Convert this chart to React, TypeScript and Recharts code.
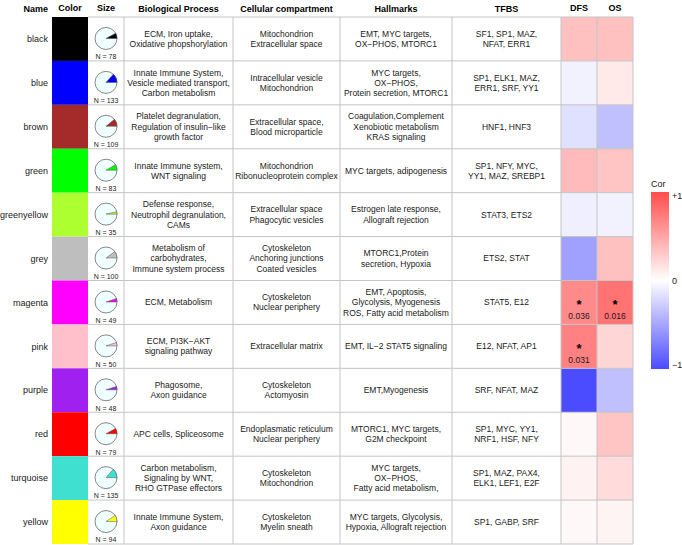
import React from 'react';
import { ScatterChart, Scatter, XAxis, YAxis, Sector } from 'recharts';

// ---------------- data ----------------
const moduleNames = ['black', 'blue', 'brown', 'green', 'greenyellow', 'grey', 'magenta', 'pink', 'purple', 'red', 'turquoise', 'yellow'];
const moduleColors = ['#000000', '#0000FF', '#A52A2A', '#00FF00', '#ADFF2F', '#BEBEBE', '#FF00FF', '#FFC0CB', '#A020F0', '#FF0000', '#40E0D0', '#FFFF00'];
const moduleSizes = [78, 133, 109, 83, 35, 100, 49, 50, 48, 79, 135, 94];

const biologicalProcess = [
  ['ECM, Iron uptake,', 'Oxidative phopshorylation'],
  ['Innate Immune System,', 'Vesicle mediated transport,', 'Carbon metabolism'],
  ['Platelet degranulation,', 'Regulation of insulin\u2212like', 'growth factor'],
  ['Innate Immune system,', 'WNT signaling'],
  ['Defense response,', 'Neutrophil degranulation,', 'CAMs'],
  ['Metabolism of', 'carbohydrates,', 'Immune system process'],
  ['ECM, Metabolism'],
  ['ECM, PI3K\u2212AKT', 'signaling pathway'],
  ['Phagosome,', 'Axon guidance'],
  ['APC cells, Spliceosome'],
  ['Carbon metabolism,', 'Signaling by WNT,', 'RHO GTPase effectors'],
  ['Innate Immune System,', 'Axon guidance'],
];
const cellularCompartment = [
  ['Mitochondrion', 'Extracellular space'],
  ['Intracellular vesicle', 'Mitochondrion'],
  ['Extracellular space,', 'Blood microparticle'],
  ['Mitochondrion', 'Ribonucleoprotein complex'],
  ['Extracellular space', 'Phagocytic vesicles'],
  ['Cytoskeleton', 'Anchoring junctions', 'Coated vesicles'],
  ['Cytoskeleton', 'Nuclear periphery'],
  ['Extracellular matrix'],
  ['Cytoskeleton', 'Actomyosin'],
  ['Endoplasmatic reticulum', 'Nuclear periphery'],
  ['Cytoskeleton', 'Mitochondrion'],
  ['Cytoskeleton', 'Myelin sneath'],
];
const hallmarks = [
  ['EMT, MYC targets,', 'OX\u2212PHOS, MTORC1'],
  ['MYC targets,', 'OX\u2212PHOS,', 'Protein secretion, MTORC1'],
  ['Coagulation,Complement', 'Xenobiotic metabolism', 'KRAS signaling'],
  ['MYC targets, adipogenesis'],
  ['Estrogen late response,', 'Allograft rejection'],
  ['MTORC1,Protein', 'secretion, Hypoxia'],
  ['EMT, Apoptosis,', 'Glycolysis, Myogenesis', 'ROS, Fatty acid metabolism'],
  ['EMT, IL\u22122 STAT5 signaling'],
  ['EMT,Myogenesis'],
  ['MTORC1, MYC targets,', 'G2M checkpoint'],
  ['MYC targets,', 'OX\u2212PHOS,', 'Fatty acid metabolism,'],
  ['MYC targets, Glycolysis,', 'Hypoxia, Allograft rejection'],
];
const tfbs = [
  ['SF1, SP1, MAZ,', 'NFAT, ERR1'],
  ['SP1, ELK1, MAZ,', 'ERR1, SRF, YY1'],
  ['HNF1, HNF3'],
  ['SP1, NFY, MYC,', 'YY1, MAZ, SREBP1'],
  ['STAT3, ETS2'],
  ['ETS2, STAT'],
  ['STAT5, E12'],
  ['E12, NFAT, AP1'],
  ['SRF, NFAT, MAZ'],
  ['SP1, MYC, YY1,', 'NRF1, HSF, NFY'],
  ['SP1, MAZ, PAX4,', 'ELK1, LEF1, E2F'],
  ['SP1, GABP, SRF'],
];
const dfsCor = [0.35, -0.07, -0.17, 0.38, -0.09, -0.53, 0.65, 0.7, -1.0, 0.04, 0.07, 0.04];
const osCor = [0.35, 0.12, -0.35, 0.33, -0.07, 0.35, 0.78, 0.23, -0.35, 0.32, 0.2, 0.06];
const dfsP: (number | null)[] = [null, null, null, null, null, null, 0.036, 0.031, null, null, null, null];
const osP: (number | null)[] = [null, null, null, null, null, null, 0.016, null, null, null, null, null];
const legendTicks = ['+1', '0', '\u22121'];

// ---------------- layout ----------------
const W = 682;
const H = 545;
const HEADER_H = 17;
const TABLE_BOTTOM = 544;
const ROW_H = (TABLE_BOTTOM - HEADER_H) / moduleNames.length;
const COL_W = 36;
const FONT = '"Liberation Sans", Arial, Helvetica, sans-serif';
const GRID = '#C4C4C4';
const TEXT = '#1A1A1A';

const textCols = [
  { title: 'Biological Process', x0: 124, x1: 233, lines: biologicalProcess },
  { title: 'Cellular compartment', x0: 233, x1: 340, lines: cellularCompartment },
  { title: 'Hallmarks', x0: 340, x1: 452, lines: hallmarks },
  { title: 'TFBS', x0: 452, x1: 561, lines: tfbs },
];
const gridX = [124, 233, 340, 452, 561, 597, 633];

const totalGenes = moduleSizes.reduce((a, b) => a + b, 0);

const LOW = [75, 75, 255];
const HIGH = [255, 75, 75];
function corColor(v: number) {
  const t = Math.min(1, Math.abs(v));
  const end = v >= 0 ? HIGH : LOW;
  const c = [0, 1, 2].map((k) => Math.round(255 + (end[k] - 255) * t));
  return `rgb(${c.join(',')})`;
}

const leftData = moduleNames.flatMap((name, i) => [
  { col: 'Color', name, idx: i },
  { col: 'Size', name, idx: i },
]);
const heatData = moduleNames.flatMap((name, i) => [
  { metric: 'DFS', name, cor: dfsCor[i], p: dfsP[i] },
  { metric: 'OS', name, cor: osCor[i], p: osP[i] },
]);

const LeftShape = (props: any) => {
  const { cx, cy, payload } = props;
  const i = payload.idx;
  if (payload.col === 'Color') {
    return <rect x={cx - COL_W / 2} y={cy - ROW_H / 2} width={COL_W} height={ROW_H} fill={moduleColors[i]} />;
  }
  const end = (360 * moduleSizes[i]) / totalGenes;
  const pcy = cy - 0.5;
  return (
    <g>
      <circle cx={cx} cy={pcy} r={11} fill="#F0FFFF" stroke="#555" strokeWidth={0.7} />
      <Sector cx={cx} cy={pcy} innerRadius={0} outerRadius={11} startAngle={0} endAngle={end} fill={moduleColors[i]} stroke="#555" strokeWidth={0.5} />
      <text x={cx} y={cy + 20.3} textAnchor="middle" fontSize={7} fill={TEXT}>{`N = ${moduleSizes[i]}`}</text>
    </g>
  );
};

const HeatShape = (props: any) => {
  const { cx, cy, payload } = props;
  return (
    <g>
      <rect x={cx - COL_W / 2} y={cy - ROW_H / 2} width={COL_W} height={ROW_H} fill={corColor(payload.cor)} />
      {payload.p != null && (
        <g>
          <text x={cx} y={cy + 6.5} textAnchor="middle" fontSize={13} fontWeight="bold" fill="#000">*</text>
          <text x={cx} y={cy + 16.5} textAnchor="middle" fontSize={8.5} fill={TEXT}>{payload.p.toFixed(3)}</text>
        </g>
      )}
    </g>
  );
};

const headerTick = { fontSize: 9, fontWeight: 'bold', fill: '#000' } as any;

export default function App() {
  return (
    <div style={{ position: 'absolute', left: 0, top: 0, width: W, height: H, fontFamily: FONT, background: '#fff', overflow: 'hidden' }}>
      {/* Name / Color / Size */}
      <div style={{ position: 'absolute', left: 0, top: 0 }}>
        <ScatterChart width={124} height={H} margin={{ top: 0, right: 0, bottom: 1, left: 0 }}>
          <XAxis xAxisId={0} type="category" dataKey="col" orientation="top" height={HEADER_H} allowDuplicatedCategory={false} axisLine={false} tickLine={false} tickSize={0} tickMargin={6} tick={headerTick} interval={0} />
          <YAxis yAxisId={0} type="category" dataKey="name" width={52} reversed allowDuplicatedCategory={false} axisLine={false} tickLine={false} tickSize={0} tickMargin={4} tick={{ fontSize: 9, fill: TEXT }} interval={0} />
          <Scatter data={leftData} shape={LeftShape} isAnimationActive={false} />
        </ScatterChart>
      </div>

      {/* DFS / OS heatmap */}
      <div style={{ position: 'absolute', left: 561, top: 0 }}>
        <ScatterChart width={72} height={H} margin={{ top: 0, right: 0, bottom: 1, left: 0 }}>
          <XAxis type="category" dataKey="metric" orientation="top" height={HEADER_H} allowDuplicatedCategory={false} axisLine={false} tickLine={false} tickSize={0} tickMargin={6} tick={headerTick} interval={0} />
          <YAxis type="category" dataKey="name" hide reversed allowDuplicatedCategory={false} />
          <Scatter data={heatData} shape={HeatShape} isAnimationActive={false} />
        </ScatterChart>
      </div>

      {/* text columns */}
      {textCols.map((c) => (
        <React.Fragment key={c.title}>
          <div style={{ position: 'absolute', left: c.x0, top: 0, width: c.x1 - c.x0, height: HEADER_H, display: 'flex', alignItems: 'center', justifyContent: 'center', fontSize: 9, fontWeight: 'bold', color: '#000', whiteSpace: 'nowrap' }}>
            {c.title}
          </div>
          {c.lines.map((ls, i) => (
            <div key={i} style={{ position: 'absolute', left: c.x0, top: HEADER_H + i * ROW_H, width: c.x1 - c.x0, height: ROW_H, display: 'flex', flexDirection: 'column', alignItems: 'center', justifyContent: 'center', fontSize: 8.5, lineHeight: '10.2px', color: TEXT, whiteSpace: 'nowrap', textAlign: 'center' }}>
              {ls.map((l, k) => (
                <div key={k}>{l}</div>
              ))}
            </div>
          ))}
        </React.Fragment>
      ))}

      {/* Name header */}
      <div style={{ position: 'absolute', left: 0, top: 0, width: 48, height: HEADER_H, display: 'flex', alignItems: 'center', justifyContent: 'flex-end', fontSize: 9, fontWeight: 'bold', color: '#000' }}>Name</div>

      {/* grid + legend overlay */}
      <svg width={W} height={H} style={{ position: 'absolute', left: 0, top: 0, pointerEvents: 'none' }}>
        <defs>
          <linearGradient id="corGrad" x1="0" y1="0" x2="0" y2="1">
            <stop offset="0" stopColor={corColor(1)} />
            <stop offset="0.5" stopColor="#FFFFFF" />
            <stop offset="1" stopColor={corColor(-1)} />
          </linearGradient>
        </defs>
        {moduleNames.map((_, i) => (
          <line key={'h' + i} x1={88} x2={633} y1={HEADER_H + i * ROW_H} y2={HEADER_H + i * ROW_H} stroke={GRID} strokeWidth={1} />
        ))}
        <line x1={88} x2={633} y1={TABLE_BOTTOM} y2={TABLE_BOTTOM} stroke={GRID} strokeWidth={1} />
        {gridX.map((x) => (
          <line key={'v' + x} x1={x} x2={x} y1={HEADER_H} y2={TABLE_BOTTOM} stroke={GRID} strokeWidth={1} />
        ))}
        <text x={651} y={187} fontSize={9} fill={TEXT}>Cor</text>
        <rect x={651} y={192} width={18} height={177} fill="url(#corGrad)" />
        {legendTicks.map((t, k) => (
          <text key={t} x={672} y={199 + k * 84.5} fontSize={9} fill={TEXT}>{t}</text>
        ))}
      </svg>
    </div>
  );
}
